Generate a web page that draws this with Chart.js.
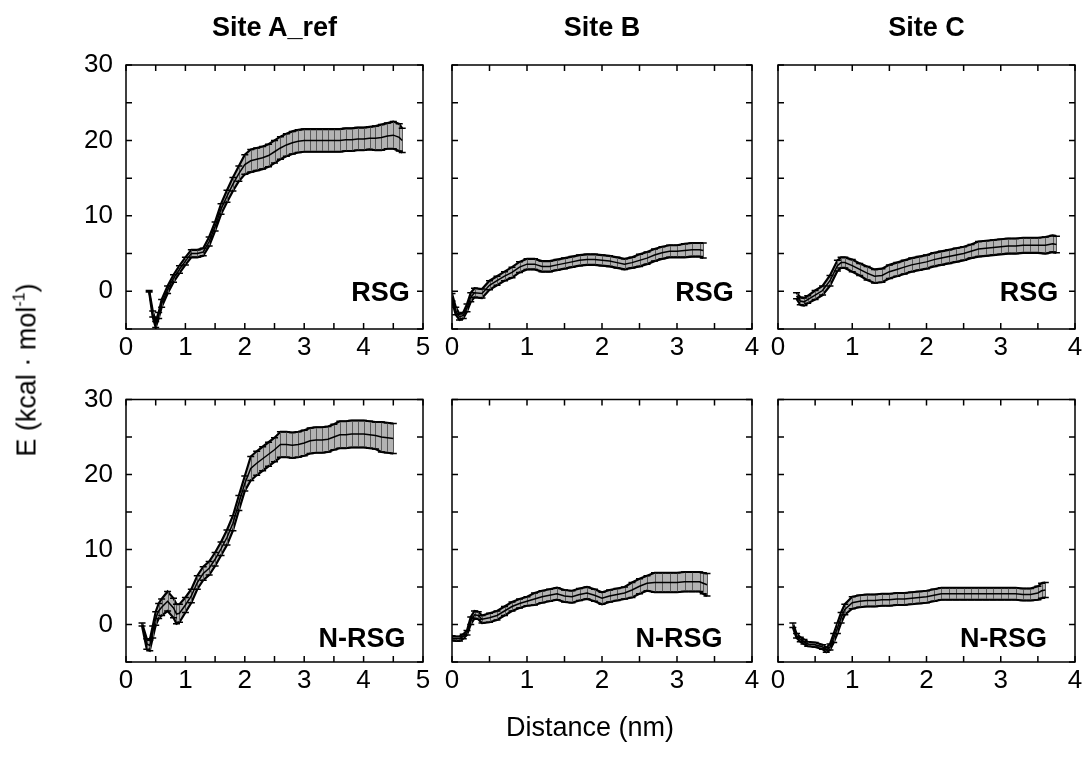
<!DOCTYPE html>
<html>
<head>
<meta charset="utf-8">
<script src="https://cdn.jsdelivr.net/npm/chart.js@4.4.1/dist/chart.umd.min.js"></script>
<style>
  html, body { margin: 0; padding: 0; background: #fff; }
  #wrap { position: relative; width: 1087px; height: 760px; overflow: hidden;
          font-family: "Liberation Sans", Arial, Helvetica, sans-serif; color: #000; }
  #wrap canvas { position: absolute; left: 0; top: 0; }
  .lbl { position: absolute; transform: translate(-50%, -50%); white-space: nowrap; line-height: 1; }
  .title { font-weight: bold; font-size: 27px; }
  .tag { font-weight: bold; font-size: 27px; }
  .axis { font-size: 27px; }
  .rot { transform: translate(-50%, -50%) rotate(-90deg); }
  sup { font-size: 16px; vertical-align: 11px; line-height: 0; }
</style>
</head>
<body>
<div id="wrap">
  <div class="lbl title" style="left:274.5px;top:27px;">Site A_ref</div>
  <div class="lbl title" style="left:602px;top:27px;">Site B</div>
  <div class="lbl title" style="left:926.5px;top:27px;">Site C</div>
  <div class="lbl axis rot" style="left:27px;top:370px;">E (kcal · mol<sup>-1</sup>)</div>
  <div class="lbl axis" style="left:590px;top:727px;">Distance (nm)</div>
  <div class="lbl tag" style="left:380.5px;top:292px;">RSG</div>
  <div class="lbl tag" style="left:704.5px;top:292px;">RSG</div>
  <div class="lbl tag" style="left:1029px;top:292px;">RSG</div>
  <div class="lbl tag" style="left:362px;top:638px;">N-RSG</div>
  <div class="lbl tag" style="left:679px;top:638px;">N-RSG</div>
  <div class="lbl tag" style="left:1003.5px;top:638px;">N-RSG</div>
</div>
<script>
// ---------- DATA ----------
const siteNames = ["Site A_ref", "Site B", "Site C"];
const rowNames = ["RSG", "N-RSG"];
const yTickLabels = [0, 10, 20, 30];
const xTickLabelsA = [0, 1, 2, 3, 4, 5];
const xTickLabelsBC = [0, 1, 2, 3, 4];

// Site A_ref, RSG
const distA_RSG = [0.39,0.45,0.5,0.55,0.6,0.7,0.8,0.9,1.0,1.1,1.2,1.3,1.4,1.5,1.6,1.7,1.8,1.9,2.0,2.1,2.2,2.3,2.4,2.5,2.6,2.7,2.8,2.9,3.0,3.1,3.2,3.3,3.4,3.5,3.6,3.7,3.8,3.9,4.0,4.1,4.2,4.3,4.4,4.5,4.6,4.65];
const meanA_RSG = [0.0,-3.0,-4.4,-3.2,-1.6,0.2,1.7,2.9,4.0,5.0,5.0,5.2,6.6,8.6,10.9,12.6,14.2,15.6,16.8,17.3,17.5,17.7,18.0,18.5,19.0,19.4,19.7,19.9,20.0,20.0,20.0,20.0,20.0,20.0,20.0,20.1,20.1,20.2,20.2,20.3,20.3,20.4,20.6,20.7,20.4,20.0];
const errA_RSG  = [0.1,0.4,0.4,0.4,0.5,0.5,0.5,0.5,0.5,0.5,0.5,0.5,0.6,0.6,0.7,0.8,0.9,1.0,1.3,1.5,1.5,1.5,1.5,1.5,1.5,1.5,1.5,1.5,1.5,1.5,1.5,1.5,1.5,1.5,1.5,1.5,1.5,1.5,1.5,1.5,1.6,1.7,1.7,1.8,1.8,1.6];

// Site B, RSG
const distB_RSG = [0.0,0.05,0.1,0.15,0.2,0.25,0.3,0.4,0.5,0.6,0.7,0.8,0.9,1.0,1.1,1.2,1.3,1.4,1.5,1.6,1.7,1.8,1.9,2.0,2.1,2.2,2.3,2.4,2.5,2.6,2.7,2.8,2.9,3.0,3.1,3.2,3.3,3.35];
const meanB_RSG = [-0.8,-2.6,-3.4,-3.2,-2.2,-0.8,-0.2,-0.3,0.8,1.4,2.0,2.5,3.2,3.6,3.6,3.3,3.3,3.5,3.7,3.9,4.1,4.2,4.2,4.1,4.0,3.8,3.6,3.8,4.1,4.4,4.8,5.1,5.3,5.3,5.4,5.5,5.5,5.4];
const errB_RSG  = [0.5,0.5,0.4,0.4,0.5,0.6,0.6,0.6,0.6,0.6,0.6,0.7,0.7,0.7,0.7,0.7,0.7,0.7,0.7,0.7,0.7,0.7,0.7,0.7,0.7,0.7,0.7,0.7,0.8,0.8,0.8,0.8,0.8,0.8,0.9,0.9,0.9,1.0];

// Site C, RSG
const distC_RSG = [0.25,0.3,0.35,0.4,0.5,0.6,0.7,0.8,0.85,0.9,1.0,1.1,1.2,1.3,1.4,1.5,1.6,1.7,1.8,1.9,2.0,2.1,2.2,2.3,2.4,2.5,2.6,2.7,2.8,2.9,3.0,3.1,3.2,3.3,3.4,3.5,3.6,3.7,3.75];
const meanC_RSG = [-0.6,-1.3,-1.4,-1.1,-0.5,0.1,1.4,3.4,3.8,3.8,3.4,2.9,2.4,2.0,2.1,2.6,2.9,3.2,3.5,3.7,3.9,4.2,4.4,4.6,4.8,5.0,5.3,5.6,5.7,5.8,5.9,6.0,6.0,6.1,6.1,6.1,6.1,6.3,6.2];
const errC_RSG  = [0.4,0.5,0.5,0.5,0.6,0.6,0.7,0.7,0.7,0.7,0.8,0.8,0.9,0.9,0.9,0.9,0.9,0.9,0.9,0.9,0.9,0.9,0.9,0.9,0.9,0.9,0.9,1.0,1.0,1.0,1.0,1.0,1.0,1.0,1.0,1.0,1.1,1.1,1.1];

// Site A_ref, N-RSG
const distA_NRSG = [0.27,0.35,0.4,0.45,0.5,0.55,0.6,0.7,0.8,0.85,0.9,1.0,1.1,1.2,1.3,1.4,1.5,1.6,1.7,1.8,1.9,2.0,2.1,2.2,2.3,2.4,2.5,2.6,2.7,2.8,2.9,3.0,3.1,3.2,3.3,3.4,3.5,3.6,3.7,3.8,3.9,4.0,4.1,4.2,4.3,4.4,4.5];
const meanA_NRSG = [0.0,-2.6,-2.8,-1.0,0.8,1.8,2.3,3.1,2.2,1.4,1.5,2.6,3.8,5.6,6.8,7.5,8.7,10.1,11.6,13.5,16.2,18.8,20.8,21.5,22.1,22.7,23.3,24.0,24.0,23.9,24.0,24.2,24.5,24.6,24.6,24.7,25.0,25.3,25.3,25.4,25.4,25.4,25.3,25.2,25.0,24.9,24.8];
const errA_NRSG  = [0.2,0.7,0.7,0.8,0.9,1.0,1.1,1.3,1.3,1.3,1.2,1.0,0.9,0.9,0.9,0.9,0.9,0.9,1.0,1.0,1.0,1.0,1.6,1.6,1.6,1.6,1.6,1.7,1.7,1.7,1.7,1.7,1.7,1.7,1.7,1.7,1.7,1.8,1.8,1.8,1.8,1.8,1.8,1.8,2.0,2.0,2.0];

// Site B, N-RSG
const distB_NRSG = [0.0,0.05,0.1,0.15,0.2,0.25,0.3,0.35,0.4,0.5,0.6,0.7,0.8,0.9,1.0,1.1,1.2,1.3,1.4,1.5,1.6,1.7,1.8,1.9,2.0,2.1,2.2,2.3,2.4,2.5,2.6,2.7,2.8,2.9,3.0,3.1,3.2,3.3,3.35,3.4];
const meanB_NRSG = [-1.8,-1.9,-1.9,-1.6,-1.1,0.5,1.3,1.2,0.7,0.9,1.2,1.8,2.4,2.8,3.1,3.4,3.7,3.9,4.1,3.8,3.7,4.0,4.2,3.9,3.5,3.8,4.0,4.2,4.6,5.1,5.5,5.6,5.6,5.6,5.6,5.7,5.7,5.7,5.5,5.3];
const errB_NRSG  = [0.3,0.3,0.3,0.3,0.3,0.5,0.5,0.5,0.5,0.6,0.6,0.6,0.6,0.6,0.6,0.8,0.8,0.8,0.8,0.8,0.8,0.8,0.8,0.8,0.8,0.8,0.8,0.8,1.0,1.0,1.0,1.3,1.3,1.3,1.3,1.3,1.3,1.3,1.4,1.5];

// Site C, N-RSG
const distC_NRSG = [0.2,0.25,0.3,0.35,0.4,0.5,0.6,0.65,0.7,0.75,0.8,0.85,0.9,1.0,1.1,1.2,1.3,1.4,1.5,1.6,1.7,1.8,1.9,2.0,2.1,2.2,2.3,2.4,2.5,2.6,2.7,2.8,2.9,3.0,3.1,3.2,3.3,3.4,3.5,3.55,3.6];
const meanC_NRSG = [-0.1,-1.5,-2.0,-2.3,-2.6,-2.7,-3.0,-3.4,-3.0,-1.8,-0.5,0.9,2.0,2.9,3.1,3.2,3.2,3.3,3.3,3.4,3.4,3.5,3.6,3.7,3.9,4.1,4.1,4.1,4.1,4.1,4.1,4.1,4.1,4.1,4.1,4.1,4.0,4.0,4.2,4.5,4.6];
const errC_NRSG  = [0.3,0.3,0.3,0.3,0.3,0.3,0.3,0.3,0.4,0.6,0.7,0.7,0.7,0.8,0.8,0.8,0.8,0.8,0.8,0.8,0.8,0.8,0.8,0.8,0.8,0.8,0.8,0.8,0.8,0.8,0.8,0.8,0.8,0.8,0.8,0.8,0.8,0.8,0.9,1.0,1.0];

// ---------- LAYOUT ----------
const W = 1087, H = 760;
const YW = 60, XH = 50;
const TICK = 6;
const FONT = "'Liberation Sans', Arial, Helvetica, sans-serif";
Chart.defaults.font.family = FONT;
Chart.defaults.color = '#000';

const panels = [
  { dist: distA_RSG,  mean: meanA_RSG,  err: errA_RSG,  xLabels: xTickLabelsA,  area: [126, 65, 423, 329],    yLab: true  },
  { dist: distB_RSG,  mean: meanB_RSG,  err: errB_RSG,  xLabels: xTickLabelsBC, area: [452, 65, 752, 329],    yLab: false },
  { dist: distC_RSG,  mean: meanC_RSG,  err: errC_RSG,  xLabels: xTickLabelsBC, area: [778, 65, 1075, 329],   yLab: false },
  { dist: distA_NRSG, mean: meanA_NRSG, err: errA_NRSG, xLabels: xTickLabelsA,  area: [126, 399.5, 423, 662], yLab: true  },
  { dist: distB_NRSG, mean: meanB_NRSG, err: errB_NRSG, xLabels: xTickLabelsBC, area: [452, 399.5, 752, 662], yLab: false },
  { dist: distC_NRSG, mean: meanC_NRSG, err: errC_NRSG, xLabels: xTickLabelsBC, area: [778, 399.5, 1075, 662], yLab: false }
];

// error bars (stripes + caps), drawn under the mean line
const errBars = {
  id: 'errBars',
  beforeDatasetDraw(chart, args) {
    if (args.index !== 0) return;
    const ds = chart.data.datasets[0];
    const { ctx } = chart;
    const xs = chart.scales.x, ys = chart.scales.y;
    const a = chart.chartArea;
    ctx.save();
    ctx.beginPath();
    ctx.rect(a.left, a.top, a.right - a.left, a.bottom - a.top);
    ctx.clip();
    ctx.lineWidth = 1;
    ctx.strokeStyle = '#5a5a5a';
    ctx.beginPath();
    ds.data.forEach((p, i) => {
      const e = ds.errors[i];
      const px = Math.round(xs.getPixelForValue(p.x)) + 0.5;
      ctx.moveTo(px, ys.getPixelForValue(p.y + e));
      ctx.lineTo(px, ys.getPixelForValue(p.y - e));
    });
    ctx.stroke();
    ctx.lineWidth = 1.5;
    ctx.strokeStyle = '#000';
    ctx.beginPath();
    ds.data.forEach((p, i) => {
      const e = ds.errors[i];
      const px = xs.getPixelForValue(p.x);
      const y1 = ys.getPixelForValue(p.y + e), y2 = ys.getPixelForValue(p.y - e);
      ctx.moveTo(px - 3.5, y1); ctx.lineTo(px + 3.5, y1);
      ctx.moveTo(px - 3.5, y2); ctx.lineTo(px + 3.5, y2);
    });
    ctx.stroke();
    ctx.restore();
  }
};

// frame with inward ticks on all four sides
const frame = {
  id: 'frame',
  afterDatasetsDraw(chart) {
    const { ctx, chartArea: a } = chart;
    const xs = chart.scales.x, ys = chart.scales.y;
    ctx.save();
    ctx.strokeStyle = '#000';
    ctx.lineWidth = 1.5;
    ctx.strokeRect(a.left, a.top, a.right - a.left, a.bottom - a.top);
    ctx.beginPath();
    xs.ticks.forEach(t => {
      const px = xs.getPixelForValue(t.value);
      ctx.moveTo(px, a.bottom); ctx.lineTo(px, a.bottom - TICK);
      ctx.moveTo(px, a.top); ctx.lineTo(px, a.top + TICK);
    });
    ys.ticks.forEach(t => {
      const py = ys.getPixelForValue(t.value);
      ctx.moveTo(a.left, py); ctx.lineTo(a.left + TICK, py);
      ctx.moveTo(a.right, py); ctx.lineTo(a.right - TICK, py);
    });
    ctx.stroke();
    ctx.restore();
  }
};

const wrap = document.getElementById('wrap');
panels.forEach(cfg => {
  const cv = document.createElement('canvas');
  cv.width = W; cv.height = H;
  cv.style.width = W + 'px'; cv.style.height = H + 'px';
  wrap.insertBefore(cv, wrap.firstChild);
  const [L, T, R, B] = cfg.area;
  const xMax = cfg.xLabels[cfg.xLabels.length - 1];
  const meanPts = cfg.dist.map((d, i) => ({ x: d, y: cfg.mean[i] }));
  const upPts = cfg.dist.map((d, i) => ({ x: d, y: cfg.mean[i] + cfg.err[i] }));
  const loPts = cfg.dist.map((d, i) => ({ x: d, y: cfg.mean[i] - cfg.err[i] }));
  new Chart(cv, {
    type: 'line',
    data: {
      datasets: [
        { data: meanPts, errors: cfg.err, borderColor: '#000', borderWidth: 1.5, pointRadius: 0, fill: false, tension: 0 },
        { data: upPts, borderColor: '#000', borderWidth: 2.2, pointRadius: 0, fill: false, tension: 0 },
        { data: loPts, borderColor: '#000', borderWidth: 2.2, pointRadius: 0, fill: 1, backgroundColor: '#b3b3b3', tension: 0 }
      ]
    },
    options: {
      responsive: false,
      animation: false,
      events: [],
      layout: { padding: { left: L - YW, top: T, right: W - R, bottom: H - B - XH } },
      plugins: { legend: { display: false }, tooltip: { enabled: false }, title: { display: false } },
      scales: {
        x: {
          type: 'linear', min: 0, max: xMax,
          afterFit: s => { s.height = XH; },
          grid: { display: false, drawTicks: false },
          border: { display: false },
          ticks: {
            stepSize: 0.5, autoSkip: false, maxRotation: 0, padding: 3,
            font: { size: 26, family: FONT }, color: '#000',
            callback: v => (cfg.xLabels.includes(v) ? String(v) : '')
          }
        },
        y: {
          type: 'linear', min: -5, max: 30,
          afterFit: s => { s.width = YW; },
          grid: { display: false, drawTicks: false },
          border: { display: false },
          ticks: {
            display: cfg.yLab, stepSize: 5, autoSkip: false, padding: 13,
            font: { size: 26, family: FONT }, color: '#000',
            callback: v => (yTickLabels.includes(v) ? String(v) : '')
          }
        }
      }
    },
    plugins: [errBars, frame]
  });
});
</script>
</body>
</html>
